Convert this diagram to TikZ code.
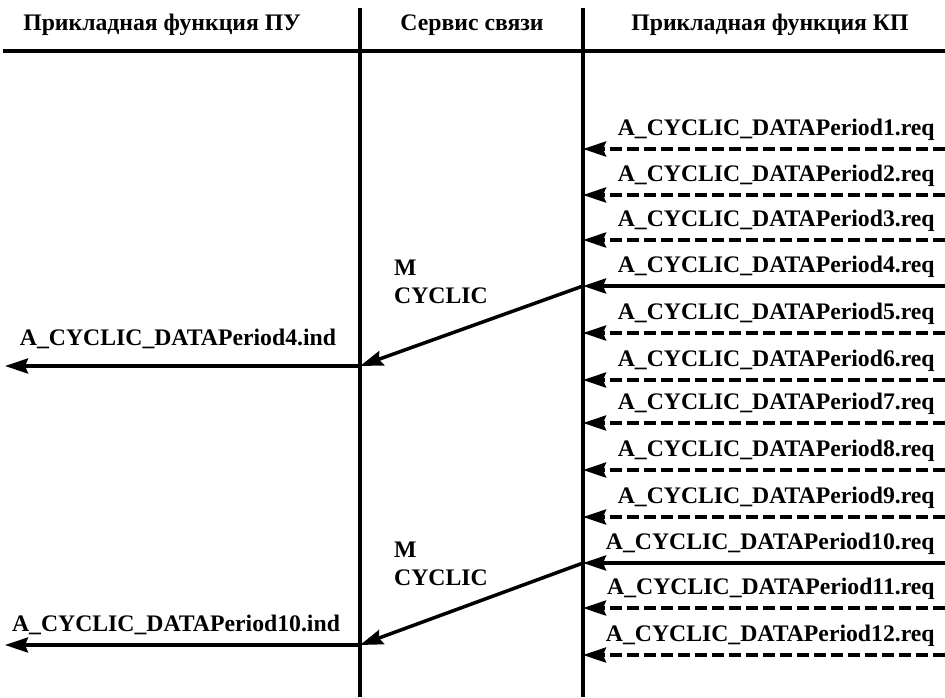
\documentclass[tikz,border=0pt]{standalone}
\usepackage{fontspec}
\setmainfont{Liberation Serif}
\usetikzlibrary{arrows.meta}

\begin{document}
\begin{tikzpicture}[x=0.02cm,y=-0.02cm,
  font=\bfseries\fontsize{13.5}{16}\selectfont,
  line/.style={line width=1.9pt},
  msg/.style={line width=2pt,-{Stealth[length=0.46cm,width=0.3cm,inset=0.06cm]}},
  opt/.style={msg,dash pattern=on 0.24cm off 0.1cm}]
\useasboundingbox (0,0) rectangle (945,697);
% header
\node (PU) at (162,25) {Прикладная функция ПУ};
\node (SVC) at (472,25) {Сервис связи};
\node (KP) at (770,25) {Прикладная функция КП};
\coordinate (HL) at (3,51);
\coordinate (HR) at (945,51);
\draw [line] (HL) -- (HR);
% lifelines
\coordinate (SVCTOP) at (360,8);
\coordinate (SVCBOT) at (360,697);
\coordinate (KPTOP) at (583,8);
\coordinate (KPBOT) at (583,697);
\draw [line] (SVCTOP) -- (SVCBOT);
\draw [line] (KPTOP) -- (KPBOT);
% requests
\foreach \i/\y/\s in {1/149/opt,2/195/opt,3/240/opt,4/286/msg,5/333/opt,6/380/opt,
    7/423/opt,8/470/opt,9/517/opt,10/563/msg,11/608/opt,12/655/opt} {
  \coordinate (R\i) at (945,\y);
  \coordinate (K\i) at (583,\y);
  \draw [\s] (R\i) -- (K\i);
  \node [anchor=base east,inner sep=0pt] (REQ\i) at (935,\y-14)
    {A\_CYCLIC\_DATAPeriod\i.req};
}
% cyclic transfer
\coordinate (S4) at (360,366);
\coordinate (U4) at (5,366);
\coordinate (S10) at (360,645);
\coordinate (U10) at (5,645);
\node [anchor=west,align=left] (MC4) at (388,282) {M\\CYCLIC};
\node [anchor=west,align=left] (MC10) at (388,564) {M\\CYCLIC};
\draw [msg] (K4) -- (S4);
\draw [msg] (S4) -- (U4);
\draw [msg] (K10) -- (S10);
\draw [msg] (S10) -- (U10);
\node [anchor=base,inner sep=0pt] (IND4) at (178,345) {A\_CYCLIC\_DATAPeriod4.ind};
\node [anchor=base,inner sep=0pt] (IND10) at (176,631) {A\_CYCLIC\_DATAPeriod10.ind};
\end{tikzpicture}
\end{document}
